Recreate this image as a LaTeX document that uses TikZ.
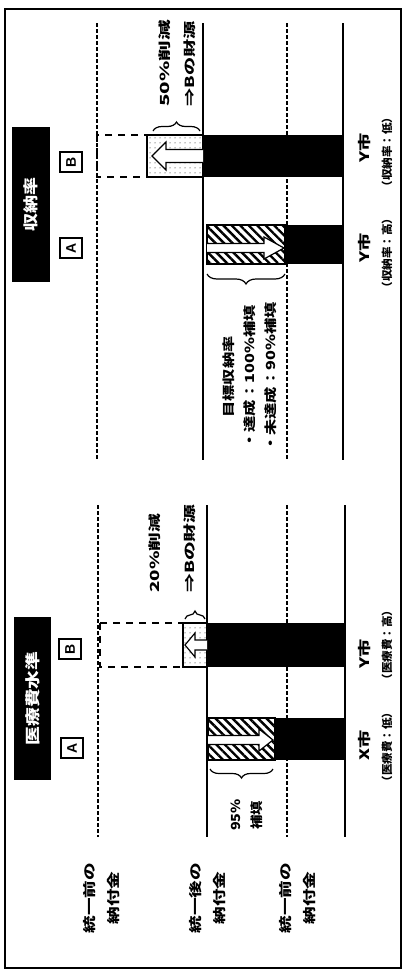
\documentclass[tikz,border=0pt]{standalone}
\usepackage{fontspec}
\setmainfont{Liberation Sans}
\newfontfamily\cjk{Noto Sans CJK JP}
\usetikzlibrary{patterns.meta,decorations.pathreplacing}
\begin{document}
\begin{tikzpicture}[x=1pt,y=-1pt,
  griddash/.style={line width=1.2pt, dash pattern=on 4pt off 2pt},
  gridsolid/.style={line width=1.6pt},
  dashbox/.style={line width=2pt, dash pattern=on 7pt off 6pt},
  dotbox/.style={line width=1.6pt, pattern={Dots[distance=5pt,radius=0.5pt]}},
  hatchbox/.style={line width=1.2pt, pattern={Lines[angle=-45,distance=6pt,line width=2.4pt]}},
  hollow/.style={fill=white, draw=black, line width=1.2pt, line join=miter},
  bracestyle/.style={decorate, decoration={brace, amplitude=#1}, line width=1.2pt},
  txt/.style={rotate=90, inner sep=0pt, font=\cjk\bfseries\fontsize{12.5}{21}\selectfont},
  bigtxt/.style={rotate=90, inner sep=0pt, align=center, xscale=1.35, font=\cjk\bfseries\fontsize{13}{24}\selectfont},
  city/.style={rotate=90, inner sep=0pt, xscale=1.4, font=\cjk\bfseries\fontsize{13}{13}\selectfont},
  paren/.style={rotate=90, inner sep=0pt, xscale=1.05, font=\cjk\bfseries\fontsize{11}{11}\selectfont},
  letterbox/.style={draw, rotate=90, line width=1.3pt, inner sep=0pt, minimum width=20pt, minimum height=22pt, font=\bfseries\fontsize{14}{14}\selectfont},
  ttlbox/.style={rotate=90, fill=black, inner sep=0pt},
  ttltxt/.style={rotate=90, inner sep=0pt, text=white, font=\cjk\bfseries\fontsize{15}{15}\selectfont}
]
\useasboundingbox (0,0) rectangle (406,978);
\fill[white] (0,0) rectangle (406,978);
% frame
\draw[line width=2.5pt] (5,9) rectangle (401,968);
% grid lines right section
\draw[griddash] (97,23) -- (97,460);
\draw[gridsolid] (203,23) -- (203,460);
\draw[griddash] (287,23) -- (287,460);
\draw[gridsolid] (343,23) -- (343,460);
% grid lines left section
\draw[griddash] (98,505) -- (98,837);
\draw[gridsolid] (207,505) -- (207,837);
\draw[griddash] (287,505) -- (287,837);
\draw[gridsolid] (345,505) -- (345,837);
% right section: Y bar
\draw[dashbox] (97,135) rectangle (147,177);
\fill (203,135) rectangle (343,177);
\draw[dotbox] (147,135) rectangle (203,177);
\draw[hollow] (203,149.5) -- (166,149.5) -- (166,142) -- (152,156) -- (166,170) -- (166,162.5) -- (203,162.5);
% right section: X bar
\fill (285,225) rectangle (343,264);
\draw[hatchbox] (207,225) rectangle (285,264);
\draw[hollow] (207,243.5) -- (264,243.5) -- (264,237) -- (284,248) -- (264,259) -- (264,252.5) -- (207,252.5);
% left section: Y bar
\draw[dashbox] (100,623) rectangle (183,667);
\fill (207,623) rectangle (345,667);
\draw[dotbox] (183,623) rectangle (207,667);
\draw[hollow] (207,640) -- (195,640) -- (195,633) -- (185,645) -- (195,657) -- (195,650) -- (207,650);
% left section: X bar
\fill (275,718) rectangle (345,760);
\draw[hatchbox] (208,718) rectangle (275,760);
\draw[hollow] (208,735.5) -- (259,735.5) -- (259,729) -- (273,740) -- (259,751) -- (259,744.5) -- (208,744.5);
% braces
\coordinate (bRYa) at (153,131); \coordinate (bRYb) at (200,131);
\draw[bracestyle=9pt] (bRYa) -- (bRYb);
\coordinate (bRXa) at (285,274); \coordinate (bRXb) at (207,274);
\draw[bracestyle=10pt] (bRXa) -- (bRXb);
\coordinate (bLYa) at (185,619); \coordinate (bLYb) at (205,619);
\draw[bracestyle=8pt] (bLYa) -- (bLYb);
\coordinate (bLXa) at (273,769); \coordinate (bLXb) at (210,769);
\draw[bracestyle=9pt] (bLXa) -- (bLXb);
% titles
\node[ttlbox, minimum width=155pt, minimum height=38pt] (ttlR) at (31,204.5) {};
\node[ttltxt, xscale=1.2] (ttlRt) at (ttlR.center) {収納率};
\node[ttlbox, minimum width=163pt, minimum height=37pt] (ttlL) at (32.5,698.5) {};
\node[ttltxt, xscale=1.25] (ttlLt) at (ttlL.center) {医療費水準};
% letter boxes
\node[letterbox] (aR) at (71,248) {A};
\node[letterbox] (bR) at (71,162) {B};
\node[letterbox] (bL) at (70,649) {B};
\node[letterbox] (aL) at (72,748) {A};
% annotations
\node[txt, xscale=1.65, anchor=west] (t50) at (165,107) {50\%削減};
\node[txt, xscale=1.45, anchor=west] (tBR) at (190,107) {⇒Bの財源};
\node[txt, xscale=1.5, anchor=west] (t20) at (155,593) {20\%削減};
\node[txt, xscale=1.5, anchor=west] (tBL) at (190,593) {⇒Bの財源};
\node[txt, xscale=1.15, align=center] (t95) at (247,815) {95\%\\補填};
\node[txt, xscale=1.3, align=center] (tgoal) at (250,377) {目標収納率\\・達成：100\%補填\\・未達成：90\%補填};
% row labels
\node[bigtxt] (lab1) at (102,898) {統一前の\\納付金};
\node[bigtxt] (lab2) at (208,898) {統一後の\\納付金};
\node[bigtxt] (lab3) at (298,898) {統一前の\\納付金};
% city labels
\node[city] (cRY) at (365,148) {Y市};
\node[paren] (pRY) at (387,152) {（収納率：低）};
\node[city] (cRX) at (365,248) {Y市};
\node[paren] (pRX) at (387,253) {（収納率：高）};
\node[city] (cLY) at (365,654) {Y市};
\node[paren] (pLY) at (387,645) {（医療費：高）};
\node[city] (cLX) at (365,745) {X市};
\node[paren] (pLX) at (387,747) {（医療費：低）};
\end{tikzpicture}
\end{document}
